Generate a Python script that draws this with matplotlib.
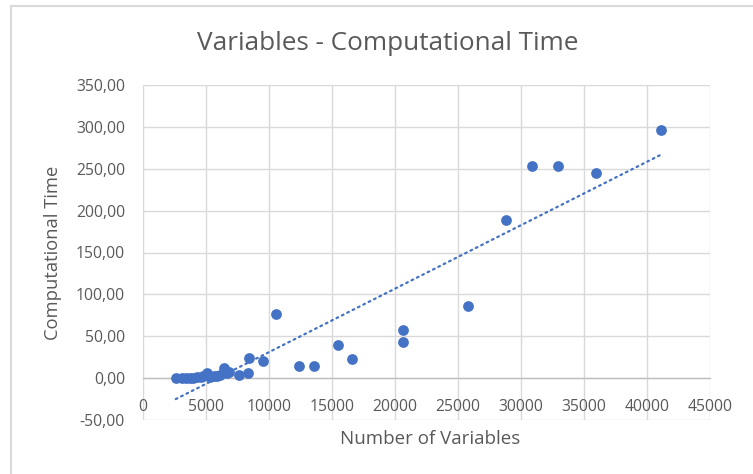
import numpy as np
import matplotlib
matplotlib.use("Agg")
import matplotlib.pyplot as plt
from matplotlib.lines import Line2D
from matplotlib.ticker import FuncFormatter

# Data
n_vars = [2600, 3100, 3400, 3700, 4000, 4300, 4600, 4800, 5100, 5300,
          5600, 5900, 6100, 6400, 6650, 6800, 7600, 8350, 8450, 9500,
          10550, 12400, 13550, 15450, 16550, 20650, 20650, 25800, 28800,
          30900, 32900, 35950, 41150]
comp_time = [0, 0, 0, 0, 0.5, 1, 1, 2, 6, 1.5,
             2, 3, 4, 12, 6, 7, 4, 6, 24, 20,
             76, 14, 14, 39, 23, 43, 57, 86, 189,
             253, 253, 245, 296]

x_ticks = list(range(0, 45001, 5000))
y_ticks = list(range(-50, 351, 50))

blue = "#4472C4"
grey_txt = "#595959"
grid_c = "#D9D9D9"
plt.rcParams['font.family'] = ['Open Sans', 'DejaVu Sans']

fig = plt.figure(figsize=(7.53, 4.74), dpi=100)
ax = fig.add_axes([143 / 753, 1 - 420 / 474, 567 / 753, 335 / 474])

ax.scatter(n_vars, comp_time, s=60, color=blue, zorder=3, linewidths=0)

# linear trendline
x = np.array(n_vars, dtype=float)
y = np.array(comp_time, dtype=float)
k, b = np.polyfit(x, y, 1)
xs = np.array([x.min(), x.max()])
ax.plot(xs, k * xs + b, color=blue, lw=1.6, linestyle=(0, (0.8, 1.9)),
        dash_capstyle="round", zorder=2)

ax.set_xlim(0, 45000)
ax.set_ylim(-50, 350)
ax.set_xticks(x_ticks)
ax.set_yticks(y_ticks)
ax.yaxis.set_major_formatter(FuncFormatter(lambda v, p: f"{v:.2f}".replace(".", ",")))
ax.grid(True, color=grid_c, lw=1.0, zorder=0)
ax.set_axisbelow(True)

for s in ["top", "right", "left"]:
    ax.spines[s].set_visible(False)
ax.spines["bottom"].set_position(("data", 0))
ax.spines["bottom"].set_color("#BFBFBF")
ax.spines["bottom"].set_linewidth(1.0)

ax.tick_params(axis="both", length=0, labelsize=11.3, labelcolor=grey_txt)
ax.tick_params(axis="x", pad=15)
ax.tick_params(axis="y", pad=13)

fig.text(388 / 753, 1 - 43 / 474, "Variables - Computational Time",
         ha="center", va="center", fontsize=18.8, color=grey_txt)
fig.text(430 / 753, 1 - 439 / 474, "Number of Variables",
         ha="center", va="center", fontsize=13.5, color=grey_txt)
fig.text(53 / 753, 1 - 253 / 474, "Computational Time", rotation=90,
         ha="center", va="center", fontsize=13.2, color=grey_txt)

# chart frame
fig.add_artist(Line2D([11 / 753, 11 / 753], [0, 1 - 6 / 474],
                      transform=fig.transFigure, color=grid_c, lw=1.5))
fig.add_artist(Line2D([11 / 753, 1], [1 - 6 / 474, 1 - 6 / 474],
                      transform=fig.transFigure, color=grid_c, lw=1.5))

fig.savefig("out.png", dpi=100)
